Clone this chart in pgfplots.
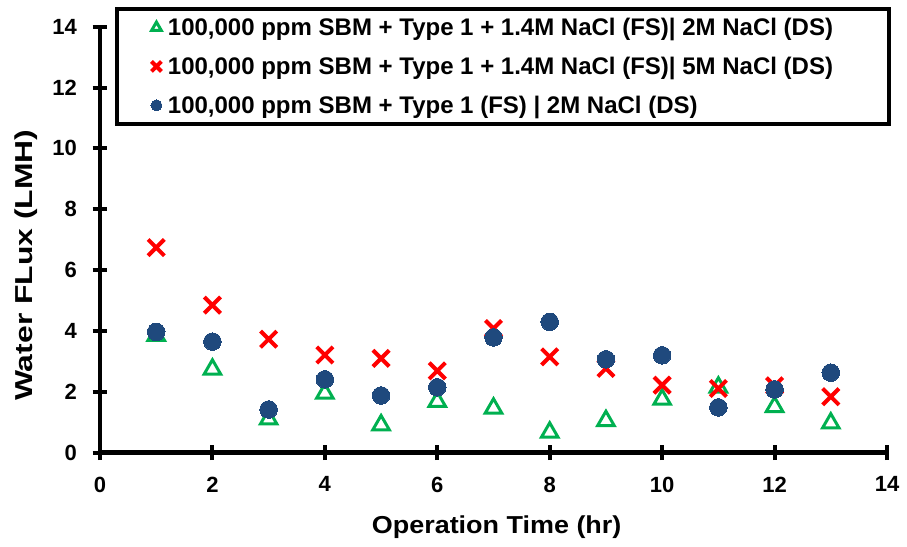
\documentclass[border=0pt]{standalone}
\usepackage{pgfplots}
\pgfplotsset{compat=1.18}
\usepackage{fontspec}
\setmainfont{Liberation Sans}
\definecolor{cgreen}{RGB}{0,176,80}
\definecolor{cred}{RGB}{255,0,0}
\definecolor{cblue}{RGB}{31,73,125}
\newcommand{\lent}[1]{\makebox[689pt][l]{\hspace{4pt}#1}}
\pgfplotsset{
  smalllegend/.style={legend image code/.code={\draw[##1, mark size=5.5pt, line width=2.5pt] plot coordinates {(0pt,0pt)};}},
  xlegend/.style={legend image code/.code={\draw[##1, mark size=7pt, line width=3pt] plot coordinates {(0pt,0pt)};}},
}
\begin{document}
\begin{tikzpicture}
\useasboundingbox (0,0) rectangle (907pt,546pt);
\begin{axis}[
  at={(100pt,93.3pt)}, anchor=south west,
  scale only axis, width=787pt, height=426pt,
  xmin=0, xmax=14, ymin=0, ymax=14,
  xtick={0,2,...,14}, ytick={0,2,...,14},
  axis x line=bottom, axis y line=left,
  axis line style={line width=4.5pt, -},
  tick align=center, major tick length=15pt,
  every tick/.style={black, line width=4pt},
  tick label style={font=\fontsize{22}{24}\selectfont\bfseries},
  /pgf/number format/assume math mode=true,
  xticklabel style={yshift=-13pt},
  yticklabel style={xshift=-12pt},
  xlabel={\scalebox{1.1}[1]{Operation Time (hr)}},
  ylabel={\scalebox{1.3}[1]{Water FLux (LMH)}},
  label style={font=\fontsize{24.5}{28}\selectfont\bfseries},
  xlabel style={at={(axis description cs:0.504,-0.174)}, anchor=center},
  ylabel style={at={(axis description cs:-0.094,0.44)}, anchor=center},
  legend style={at={(axis description cs:0.019,1.046)}, anchor=north west,
    draw=black, line width=4pt, font=\fontsize{24}{27}\selectfont\bfseries,
    row sep=16pt, inner xsep=34pt, inner ysep=7pt},
  smalllegend,
  legend cell align=left,
  clip=false,
]
\addplot[only marks, mark=triangle, mark size=9.5pt, draw=cgreen, line width=3pt,
  mark options={draw=cgreen, line width=3pt}]
  coordinates {(1,3.85)(2,2.74)(3,1.10)(4,1.95)(5,0.91)(6,1.68)(7,1.46)(8,0.67)(9,1.05)(10,1.75)(11,2.15)(12,1.51)(13,0.97)};
\addlegendentry{\lent{100,000 ppm SBM + Type 1 + 1.4M NaCl (FS)| 2M NaCl (DS)}}
\addplot[only marks, mark=x, mark size=11.5pt, draw=cred, line width=4pt,
  mark options={draw=cred, line width=4pt}, xlegend]
  coordinates {(1,6.74)(2,4.85)(3,3.73)(4,3.21)(5,3.10)(6,2.69)(7,4.08)(8,3.15)(9,2.77)(10,2.22)(11,2.11)(12,2.2)(13,1.84)};
\addlegendentry{\lent{100,000 ppm SBM + Type 1 + 1.4M NaCl (FS)| 5M NaCl (DS)}}
\addplot[only marks, mark=*, mark size=8.8pt, draw=cblue, fill=cblue,
  mark options={draw=cblue, fill=cblue, line width=0pt}]
  coordinates {(1,3.97)(2,3.65)(3,1.42)(4,2.41)(5,1.88)(6,2.15)(7,3.79)(8,4.30)(9,3.07)(10,3.20)(11,1.49)(12,2.08)(13,2.63)};
\addlegendentry{\lent{100,000 ppm SBM + Type 1 (FS) | 2M NaCl (DS)}}
\end{axis}
\end{tikzpicture}
\end{document}
